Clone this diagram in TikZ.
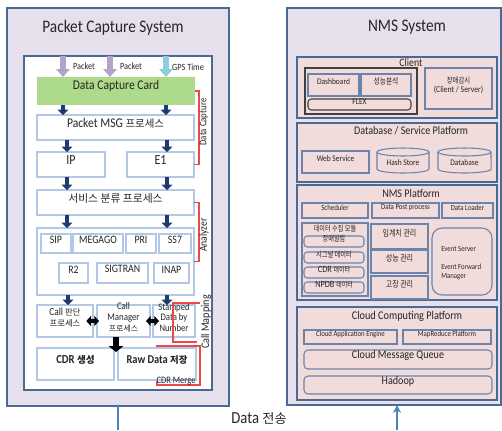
\documentclass[tikz,border=0pt]{standalone}
\usepackage{fontspec}
\setmainfont{Carlito}[Scale=1.15,FakeStretch=0.87]
\newfontfamily\kofont{Noto Sans CJK KR}[Scale=0.9]
\newfontfamily\konfont{Noto Sans CJK KR}[Scale=0.9,FakeStretch=0.8]
\newcommand\ko[1]{{\kofont #1}}
\newcommand\kon[1]{{\konfont #1}}
\usetikzlibrary{arrows.meta,fit,calc}
\definecolor{frame}{HTML}{4A6A94}
\definecolor{lav}{HTML}{E6E0EC}
\definecolor{lblue}{HTML}{B3C8E6}
\definecolor{green}{HTML}{ADDB8B}
\definecolor{navy}{HTML}{1F3A6E}
\definecolor{lavarrow}{HTML}{B2A3CC}
\definecolor{gpsarrow}{HTML}{8ECDE0}
\definecolor{pink}{HTML}{F2DCDB}
\definecolor{pframe}{HTML}{6A84AC}
\definecolor{redl}{HTML}{EE4848}
\definecolor{txt}{HTML}{262626}
\definecolor{linkblue}{HTML}{4F81BD}
\newcommand\fs[1]{\fontsize{#1}{#1}\selectfont}
% name, x1, y1, x2, y2, style, text
\newcommand\bx[7]{\node[#6,fit={(#2,#3) (#4,#5)}] (#1) {#7};}
\newcommand\cylpath[2]{%
  \filldraw[cylst] ([yshift=-3pt]#1.north west) -- ([yshift=3pt]#1.south west)
    arc[start angle=180,end angle=360,x radius=#2,y radius=3pt]
    -- ([yshift=-3pt]#1.north east)
    arc[start angle=0,end angle=180,x radius=#2,y radius=3pt] -- cycle;
  \draw[cylst] ([yshift=-3pt]#1.north west)
    arc[start angle=180,end angle=360,x radius=#2,y radius=3pt];}
\begin{document}
\begin{tikzpicture}[x=0.75pt,y=-0.75pt,
  base/.style={inner sep=0pt,outer sep=0pt,text=txt,align=center},
  outer/.style={base,draw=frame,line width=1.4pt,fill=lav},
  whitebox/.style={base,draw=frame,line width=0.9pt,fill=white},
  lb/.style={base,draw=lblue,line width=1.4pt,fill=white},
  sect/.style={base,draw=frame,line width=1.3pt,fill=pink},
  pb/.style={base,draw=pframe,line width=0.8pt,fill=pink},
  cylst/.style={draw=pframe,line width=0.8pt,fill=pink},
  lavarr/.style={draw=lavarrow,line width=5.2pt,-{Triangle[width=10pt,length=6pt]}},
  gpsarr/.style={lavarr,draw=gpsarrow},
  navarr/.style={draw=navy,line width=3.4pt,-{Triangle[width=8pt,length=4pt]}},
  blkdbl/.style={draw=black,line width=3pt,{Triangle[width=7.5pt,length=3.5pt]}-{Triangle[width=7.5pt,length=3.5pt]}},
  blkdown/.style={draw=black,line width=5pt,-{Triangle[width=11pt,length=4.5pt]}},
  redbr/.style={draw=redl,line width=0.8pt},
  lbl/.style={inner sep=0pt,text=txt},
  linkline/.style={draw=linkblue,line width=1.2pt}]
\fill[white] (0,0) rectangle (502,430);
\useasboundingbox (0,0) rectangle (502,430);

% ---------------- Packet Capture System ----------------
\bx{outerL}{7}{8}{229}{406}{outer}{}
\node[lbl,font=\fs{11.5}] (titleL) at (113,28) {Packet Capture System};
\bx{innerW}{24}{56}{212}{390}{whitebox}{}

\coordinate (pA) at (63,0);
\coordinate (pB) at (110,0);
\coordinate (pC) at (166,0);
\coordinate (cA) at (67,0);
\coordinate (cB) at (167,0);

% red bracket that sits behind the storage box
\draw[redbr] (157,346) rectangle (200,385);

\bx{dcc}{37}{77}{195}{105}{base,fill=green,font=\fs{8.7}}{Data Capture Card}
\bx{pmsg}{37}{115}{194}{140}{lb,font=\fs{8.7}}{Packet MSG \ko{프로세스}}
\bx{ip}{37}{152}{105}{177}{lb,font=\fs{9}}{IP}
\bx{e1}{127}{152}{194}{177}{lb,font=\fs{9}}{E1}
\bx{svc}{37}{190}{194}{215}{lb,font=\fs{9}}{\ko{서비스 분류 프로세스}}
\bx{ana}{37}{228}{194}{295}{lb}{}
\bx{sip}{41}{234}{71}{253}{lb,font=\fs{7.4}}{SIP}
\bx{megago}{73}{234}{123}{253}{lb,font=\fs{7.4}}{MEGAGO}
\bx{pri}{126}{234}{156}{253}{lb,font=\fs{7.4}}{PRI}
\bx{ss7}{159}{234}{191}{253}{lb,font=\fs{7.4}}{SS7}
\bx{r2}{59}{263}{88}{283}{lb,font=\fs{7.4}}{R2}
\bx{sigtran}{97}{263}{148}{283}{lb,font=\fs{7.4}}{SIGTRAN}
\bx{inap}{154}{263}{189}{283}{lb,font=\fs{7.4}}{INAP}
\bx{call1}{37}{305}{93}{337}{lb,font=\fs{7}}{Call \ko{판단}\\[1.5pt]\ko{프로세스}}
\bx{callmgr}{97}{305}{150}{337}{lb,font=\fs{6.6}}{Call\\[1.5pt]Manager\\[1.5pt]\ko{프로세스}}
\bx{stamp}{153}{305}{195}{337}{base,draw=lblue,line width=1.4pt,font=\fs{6.5}}{Stamped\\[1.5pt]Data by\\[1.5pt]Number}
\bx{cdr}{37}{348}{114}{380}{lb,font=\bfseries\fs{8}}{CDR \ko{생성}}
\bx{raw}{118}{348}{196}{380}{lb,font=\bfseries\fs{7.8}}{Raw Data \ko{저장}}

% input arrows
\draw[lavarr] (innerW.north -| pA) -- (dcc.north -| pA);
\draw[lavarr] (innerW.north -| pB) -- (dcc.north -| pB);
\draw[gpsarr] (innerW.north -| pC) -- (dcc.north -| pC);
\node[lbl,font=\fs{6.2}] (lp1) at (84,66) {Packet};
\node[lbl,font=\fs{6.2}] (lp2) at (131,66) {Packet};
\node[lbl,font=\fs{6.2}] (lgps) at (188,67) {GPS Time};

% processing flow
\draw[navarr] (dcc.south -| pA) -- (pmsg.north -| pA);
\draw[navarr] (dcc.south -| pC) -- (pmsg.north -| pC);
\draw[navarr] (pmsg.south -| cA) -- (ip.north -| cA);
\draw[navarr] (pmsg.south -| cB) -- (e1.north -| cB);
\draw[navarr] (ip.south -| cA) -- (svc.north -| cA);
\draw[navarr] (e1.south -| cB) -- (svc.north -| cB);
\draw[navarr] (svc.south -| cA) -- (ana.north -| cA);
\draw[navarr] (svc.south -| cB) -- (ana.north -| cB);
\coordinate (cA2) at (68,0);
\draw[navarr] (ana.south -| cA2) -- (call1.north -| cA2);
\draw[navarr] (ana.south -| cB) -- (stamp.north -| cB);
\draw[blkdbl] ([xshift=-5pt]call1.east) -- ([xshift=1.5pt]callmgr.west);
\draw[blkdbl] ([xshift=-3pt]callmgr.east) -- ([xshift=4.5pt]stamp.west);
\coordinate (pM) at (116,0);
\draw[blkdown] (callmgr.south -| pM) -- ([yshift=-3pt]raw.north -| pM);

% stage brackets
\draw[redbr] (dcc.east) -- ++(4,0) |- (e1.east);
\draw[redbr] (svc.east) -- ++(5,0) |- (ana.east);
\draw[redbr] (200,303) -- (173,303) -- (173,342) -- (197,342);
\node[lbl,font=\fs{6.6},rotate=90] (lcap) at (204,122) {Data Capture};
\node[lbl,font=\fs{7.2},rotate=90] (lana) at (204,235) {Analyzer};
\node[lbl,font=\fs{7.6},rotate=90] (lmap) at (206,322) {Call Mapping};
\node[lbl,font=\fs{6.4}] (lmerge) at (176,381) {CDR Merge};

% ---------------- NMS System ----------------
\bx{outerR}{287}{8}{501}{405}{outer}{}
\node[lbl,font=\fs{11.5}] (titleR) at (407,27) {NMS System};

\bx{client}{297}{57}{497}{118}{sect}{}
\node[lbl,font=\fs{7.4}] (lclient) at (411,63) {Client};
\bx{grp}{305}{68}{417}{114}{base,draw=black!75,line width=0.9pt}{}
\bx{dash}{308}{74}{359}{96}{pb,font=\fs{5.6}}{Dashboard}
\bx{perf}{361}{74}{411}{96}{pb,font=\fs{7}}{\kon{성능분석}}
\bx{flex}{308}{99}{411}{110}{pb,draw=black!75,rounded corners=2.5pt,font=\fs{5.6}}{FLEX}
\bx{fault}{425}{68}{492}{109}{pb,font=\fs{5.8}}{{\fs{6.6}\kon{장애감시}}\\[1.5pt](Client / Server)}

\bx{dbsp}{297}{123}{497}{182}{sect}{}
\node[lbl,font=\fs{7.6}] (ldbsp) at (411,131) {Database / Service Platform};
\bx{web}{302}{151}{369}{173}{pb,font=\fs{5.6}}{Web Service}
\bx{hash}{377}{148}{429}{173}{base}{}
\bx{db}{438}{148}{491}{173}{base}{}
\cylpath{hash}{19.5pt}
\cylpath{db}{19.9pt}
\node[lbl,font=\fs{5.6}] (lhash) at ([yshift=-1.5pt]hash.center) {Hash Store};
\node[lbl,font=\fs{5.6}] (ldb) at ([yshift=-1.5pt]db.center) {Database};

\bx{nmsp}{297}{185}{497}{300}{sect}{}
\node[lbl,font=\fs{7.6}] (lnmsp) at (411,193) {NMS Platform};
\bx{sched}{302}{203}{368}{218}{pb,font=\fs{5.1}}{Scheduler}
\bx{dpp}{372}{203}{439}{218}{pb,font=\fs{5.1}}{Data Post process}
\bx{dl}{442}{203}{493}{218}{pb,font=\fs{5.1}}{Data Loader}
\bx{collect}{302}{223}{368}{296}{pb}{}
\node[lbl,font=\fs{6.4}] (lcollect) at (335,229) {\kon{데이터 수집 모듈}};
\bx{alarm}{304}{236}{364}{247}{pb,rounded corners=2.5pt,font=\fs{6.5}}{\kon{장애알람}}
\bx{sigd}{304}{252}{364}{263}{pb,rounded corners=2.5pt,font=\fs{6.5}}{\kon{시그널 데이터}}
\bx{cdrd}{304}{267}{364}{278}{pb,rounded corners=2.5pt,font=\fs{6.2}}{CDR \kon{데이터}}
\bx{npdb}{304}{282}{364}{293}{pb,rounded corners=2.5pt,font=\fs{6.2}}{NPDB \kon{데이터}}
\bx{thr}{371}{224}{428}{249}{pb,font=\fs{7.3}}{\kon{임계치 관리}}
\bx{perfm}{371}{250}{428}{273}{pb,font=\fs{7.3}}{\kon{성능 관리}}
\bx{faultm}{371}{276}{428}{299}{pb,font=\fs{7.3}}{\kon{고장 관리}}
\bx{evt}{432}{228}{492}{295}{pb,rounded corners=7.5pt}{}
\node[lbl,font=\fs{5.1},anchor=west] (levt1) at (441,249) {Event Server};
\node[lbl,font=\fs{5.1},anchor=west,align=left] (levt2) at (441,272) {Event Forward\\[2pt]Manager};

\bx{ccp}{297}{307}{497}{400}{sect}{}
\node[lbl,font=\fs{7.7}] (lccp) at (407,316) {Cloud Computing Platform};
\bx{cae}{304}{330}{397}{344}{pb,font=\fs{5.1}}{Cloud Application Engine}
\bx{mr}{403}{330}{491}{344}{pb,font=\fs{5.1}}{MapReduce Platform}
\bx{cmq}{304}{350}{492}{369}{pb,rounded corners=3pt,font=\fs{7.6}}{Cloud Message Queue}
\bx{hadoop}{304}{376}{492}{394}{pb,rounded corners=3pt,font=\fs{7.6}}{Hadoop}

% ---------------- transfer link ----------------
\coordinate (lend) at (118,430);
\coordinate (rend) at (397,430);
\draw[linkline] (outerL.south -| lend) -- (lend);
\draw[linkline,-{Stealth[length=6pt,width=6pt]}] (rend) -- (outerR.south -| rend);
\node[lbl,font=\fs{11}] (ltrans) at (259,419) {Data \ko{전송}};
\end{tikzpicture}
\end{document}
